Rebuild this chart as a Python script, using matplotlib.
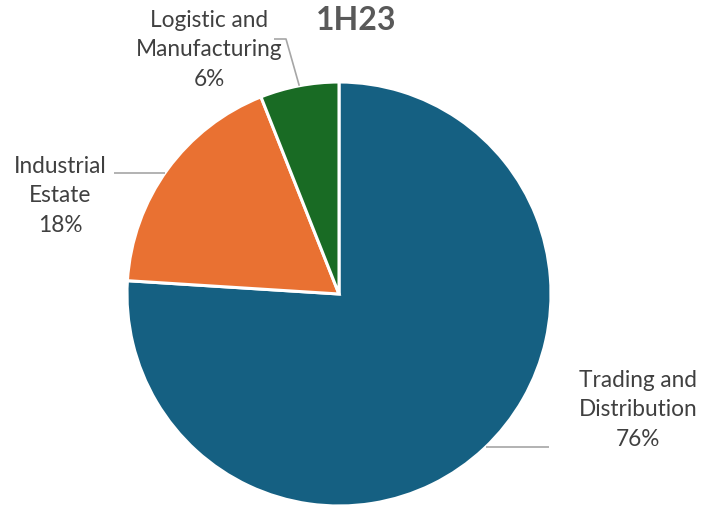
import numpy as np
import matplotlib.pyplot as plt

segments = ["Trading and\nDistribution", "Industrial\nEstate", "Logistic and\nManufacturing"]
shares = [76, 18, 6]
colors = ["#156082", "#E97132", "#196B24"]
title = "1H23"

W, H = 705, 508
cx, cy, r = 339, H - 294, 212
start = 90

fig = plt.figure(figsize=(W / 100, H / 100), dpi=100)
ax = fig.add_axes([0, 0, 1, 1])

wedges, _ = ax.pie(shares, colors=colors, startangle=start, counterclock=False,
                   center=(cx, cy), radius=r, frame=True,
                   wedgeprops=dict(edgecolor="white", linewidth=2.2))
ax.set_xlim(0, W)
ax.set_ylim(0, H)
ax.set_aspect("equal")
ax.axis("off")

txt = dict(fontsize=16.3, color="#404040", family="Lato", ha="center", va="center",
           linespacing=1.5)
line = dict(color="#A6A6A6", linewidth=1.2, solid_capstyle="butt")

def mid_angle(i):
    before = sum(shares[:i]) + shares[i] / 2
    return np.deg2rad(start - before / sum(shares) * 360)

def edge_x(y, side):
    return cx + side * np.sqrt(r ** 2 - (y - cy) ** 2)

# Trading and Distribution: label bottom right, flat leader
y0 = H - 447
ax.plot([edge_x(y0, 1), 549], [y0, y0], **line)
ax.text(638, H - 410, f"{segments[0]}\n{shares[0]}%", **txt)

# Industrial Estate: label left, flat leader
y1 = H - 173
ax.plot([edge_x(y1, -1), 114], [y1, y1], **line)
ax.text(60, H - 196, f"{segments[1]}\n{shares[1]}%", **txt)

# Logistic and Manufacturing: label above, bent leader
a = mid_angle(2)
ax.plot([cx + r * np.cos(a), 286, 274], [cy + r * np.sin(a), H - 39, H - 39], **line)
ax.text(209, H - 50, f"{segments[2]}\n{shares[2]}%", **txt)

ax.text(356, H - 20, title, fontsize=23, fontweight="bold", color="#595959",
        family="Lato", ha="center", va="center")

fig.savefig("out.png", dpi=100)
